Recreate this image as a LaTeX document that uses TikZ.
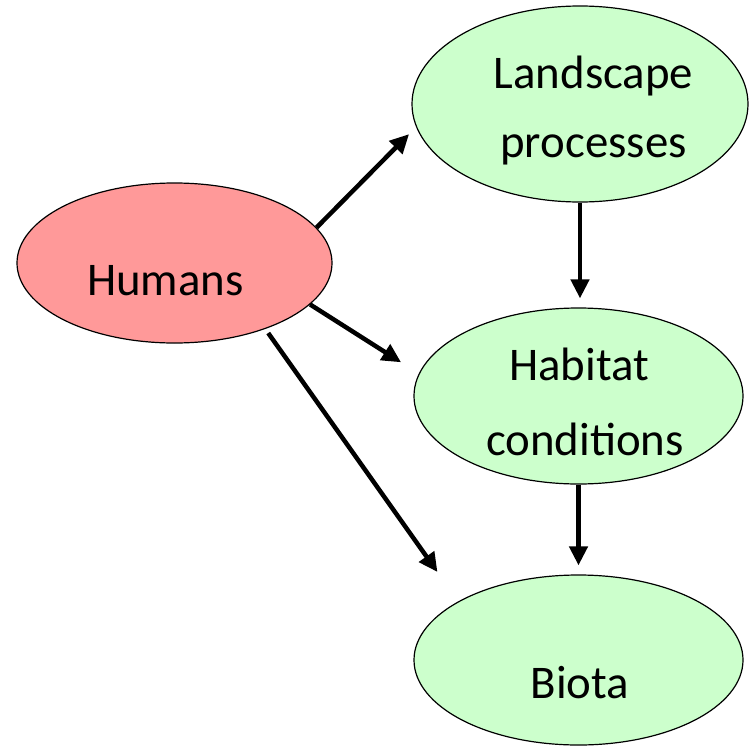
\documentclass[tikz,border=0pt]{standalone}
\usepackage{fontspec}
\setmainfont{Carlito}
\usetikzlibrary{shapes.geometric,arrows.meta}
\definecolor{humanred}{RGB}{255,153,153}
\definecolor{palegreen}{RGB}{204,255,204}
\tikzset{
  blob/.style={ellipse,draw,line width=1.2bp,inner sep=0pt},
  word/.style={anchor=base,inner sep=0pt,font=\fontsize{47}{56}\selectfont},
  link/.style={line width=4.5bp,-{Triangle[length=19bp,width=18bp]}}
}
\begin{document}
\begin{tikzpicture}[x=1bp,y=-1bp]
\useasboundingbox (0,0) rectangle (749,749);
% ellipses
\node[blob,fill=humanred,minimum width=315bp,minimum height=160bp] (hum) at (174.5,263) {};
\node[blob,fill=palegreen,minimum width=336bp,minimum height=196bp] (land) at (580,104) {};
\node[blob,fill=palegreen,minimum width=329bp,minimum height=176bp] (hab) at (578.5,396) {};
\node[blob,fill=palegreen,minimum width=329bp,minimum height=170bp] (bio) at (578.5,660) {};
% texts
\node[word] (humtxt) at (165.5,295) {Humans};
\node[word] (landA) at (593.5,88) {Landscape};
\node[word] (landB) at (593.5,157) {processes};
\node[word] (habA) at (579,380) {Habitat};
\node[word] (habB) at (585,455) {conditions};
\node[word] (biotxt) at (580,698) {Biota};
% arrows
\draw[link,shorten >=10bp] (hum.14) -- (land.188);
\draw[link,shorten >=21bp] (hum.-17) -- (hab.172);
\draw[link,shorten <=5bp,shorten >=36bp] (hum.-36) -- (bio.154);
\draw[link,shorten >=9bp] (land.south) -- (land.south |- hab.north);
\draw[link,shorten >=9bp] (hab.south) -- (hab.south |- bio.north);
\end{tikzpicture}
\end{document}
